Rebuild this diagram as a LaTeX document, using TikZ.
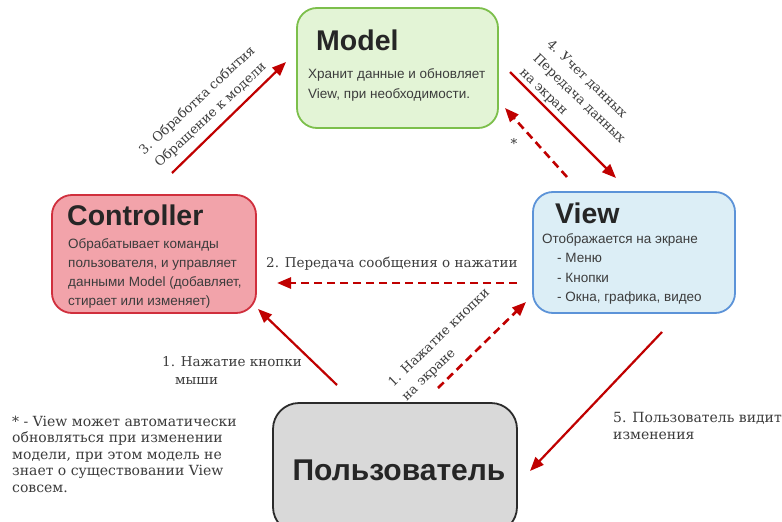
\documentclass[tikz,border=0pt]{standalone}
\usepackage{fontspec}
\setmainfont{DejaVu Serif}
\newfontfamily\boxfont{Liberation Sans}
\usetikzlibrary{arrows.meta}
\definecolor{arrred}{HTML}{C00000}
\definecolor{txtgray}{HTML}{3C3C3C}
\definecolor{titlegray}{HTML}{262626}
\definecolor{mfill}{HTML}{E3F4D6}
\definecolor{mdraw}{HTML}{7CBF4B}
\definecolor{cfill}{HTML}{F2A3AA}
\definecolor{cdraw}{HTML}{D02F3D}
\definecolor{vfill}{HTML}{DCEEF6}
\definecolor{vdraw}{HTML}{5C93D8}
\definecolor{ufill}{HTML}{D9D9D9}
\definecolor{udraw}{HTML}{2B2B2B}
\tikzset{
  box/.style={draw, line width=1.8pt, rounded corners=20pt, inner sep=0pt},
  title/.style={font=\boxfont\bfseries\fontsize{28.5}{30}\selectfont, text=titlegray, inner sep=0pt, anchor=base west},
  body/.style={font=\boxfont\fontsize{13.5}{19.5}\selectfont, text=txtgray, inner sep=0pt, anchor=base west, align=left},
  lbl/.style={font=\fontsize{13.5}{17}\selectfont, text=txtgray, inner sep=0pt},
  rlbl/.style={lbl, font=\fontsize{13}{19.5}\selectfont},
  solidarrow/.style={draw=arrred, line width=2.2pt, -{Triangle[length=14pt,width=11pt]}},
  dasharrow/.style={draw=arrred, line width=2.6pt, dash pattern=on 8pt off 5pt, -{Triangle[length=14pt,width=11pt]}}
}
\begin{document}
\begin{tikzpicture}[x=1pt,y=-1pt]
\useasboundingbox (0,0) rectangle (782,522);
\fill[white] (0,0) rectangle (782,522);

% boxes
\node[box, fill=mfill, draw=mdraw, minimum width=201pt, minimum height=120pt] (model) at (397.5,68) {};
\node[box, fill=cfill, draw=cdraw, minimum width=204pt, minimum height=118pt] (ctrl) at (154,254) {};
\node[box, fill=vfill, draw=vdraw, minimum width=202pt, minimum height=121pt] (view) at (634,252.5) {};
\node[box, fill=ufill, draw=udraw, rounded corners=26pt, minimum width=244pt, minimum height=130pt] (user) at (395,468) {};

% titles and texts (base anchor = baseline of the last line)
\node[title] (mtitle) at (316,50) {Model};
\node[body] (mbody) at (308,98) {Хранит данные и обновляет\\View, при необходимости.};
\node[title] (ctitle) at (67,225) {Controller};
\node[body, font=\boxfont\fontsize{13.5}{19}\selectfont] (cbody) at (68,305) {Обрабатывает команды\\пользователя, и управляет\\данными Model (добавляет,\\стирает или изменяет)};
\node[title] (vtitle) at (555,223) {View};
\node[body] (vbody) at (542,301.5) {Отображается на экране\\\hspace*{15pt}- Меню\\\hspace*{15pt}- Кнопки\\\hspace*{15pt}- Окна, графика, видео};
\node[font=\boxfont\bfseries\fontsize{30}{32}\selectfont, text=titlegray, inner sep=0pt] (utitle) at (399,470) {Пользователь};

% arrow end points
\coordinate (a3s) at (172,173); \coordinate (a3e) at (286,62);
\coordinate (a4s) at (510,72);  \coordinate (a4e) at (616,178);
\coordinate (ads) at (567,177); \coordinate (ade) at (505,108);
\coordinate (a2s) at (517,283); \coordinate (a2e) at (277,283);
\coordinate (a1s) at (337,385); \coordinate (a1e) at (258,309);
\coordinate (b1s) at (438,388); \coordinate (b1e) at (526,302);
\coordinate (a5s) at (662,332); \coordinate (a5e) at (530,471);

\draw[solidarrow] (a3s) -- (a3e);
\draw[solidarrow] (a4s) -- (a4e);
\draw[dasharrow] (ads) -- (ade);
\draw[dasharrow] (a2s) -- (a2e);
\draw[solidarrow] (a1s) -- (a1e);
\draw[dasharrow] (b1s) -- (b1e);
\draw[solidarrow] (a5s) -- (a5e);

% labels
\node[rlbl, rotate=43, align=center] (l3) at (204,108) {3. Обработка события\\Обращение к модели};
\node[rlbl, rotate=-44, align=left] (l4) at (579,99) {4. Учет данных\\Передача данных\\на экран};
\node[lbl] (lstar) at (514,143) {*};
\node[lbl, anchor=base west] (l2) at (266,267) {2. Передача сообщения о нажатии};
\node[lbl, anchor=base west, align=left, font=\fontsize{13.5}{18}\selectfont] (l1m) at (162,384) {1. Нажатие кнопки\\\hspace*{13pt}мыши};
\node[rlbl, rotate=44, align=left] (l1s) at (446,345) {1. Нажатие кнопки\\на экране};
\node[lbl, anchor=base west, align=left, font=\fontsize{14}{17}\selectfont] (l5) at (613,439) {5. Пользователь видит\\изменения};
\node[lbl, anchor=base west, align=left, font=\fontsize{14}{16.5}\selectfont] (note) at (12,492) {* - View может автоматически\\обновляться при изменении\\модели, при этом модель не\\знает о существовании View\\совсем.};
\end{tikzpicture}
\end{document}
